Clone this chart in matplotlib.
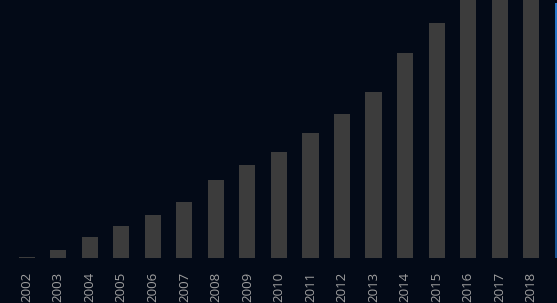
import numpy as np
import matplotlib.pyplot as plt
from matplotlib.colors import LinearSegmentedColormap

years = [str(y) for y in range(2002, 2019)]
values = [1.5, 8, 21, 32.5, 43, 56, 78, 93, 106, 125, 144, 166, 205, 235, 290, 345, 400]

bg = '#030a17'
bar_color = '#3c3c3c'
label_color = '#a0a0a0'

W, H = 557, 303
fig = plt.figure(figsize=(W / 100, H / 100), dpi=100, facecolor=bg)

# bars: baseline at y=258 px, axes runs to the top edge
ax = fig.add_axes([0, 45 / H, 1, 1 - 45 / H])
ax.set_facecolor(bg)
x = np.arange(len(years))
ax.bar(x, values, width=0.51, color=bar_color, edgecolor='none')

step = 31.53
ax.set_xlim(-26.7 / step, (W - 26.7) / step)
ax.set_ylim(0, 258)

ax.set_xticks(x)
ax.set_xticklabels(years, rotation=90, color=label_color,
                   fontsize=9.5, family='Open Sans')
ax.tick_params(axis='x', length=0, pad=10)
ax.set_yticks([])
for s in ax.spines.values():
    s.set_visible(False)

# thin blue strip on the right edge
strip = fig.add_axes([555 / W, 45 / H, 2 / W, 255 / H])
grad = np.linspace(0, 1, 100).reshape(-1, 1)
cmap = LinearSegmentedColormap.from_list('blu', ['#2a7bd0', '#17508f'])
strip.imshow(grad, aspect='auto', cmap=cmap)
strip.axis('off')

fig.savefig('out.png', dpi=100, facecolor=bg)
